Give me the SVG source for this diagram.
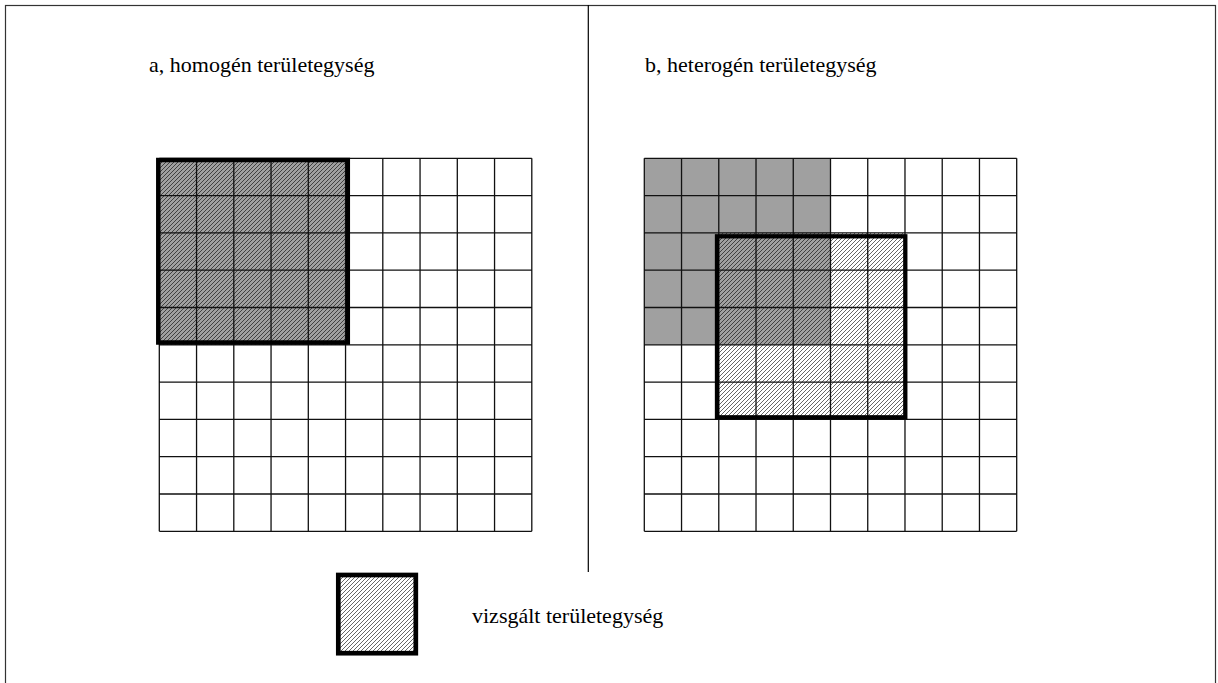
<svg xmlns="http://www.w3.org/2000/svg" width="1218" height="683" viewBox="0 0 1218 683">
<style>
.txt{font-family:"Liberation Serif","Times New Roman",serif;font-size:22px;fill:#000}
.grid{fill:none;stroke:#111;stroke-width:1.3}
.thick{fill:none;stroke:#000}
.gray{fill:#a0a0a0}
</style>
<defs>
<pattern id="hatch" patternUnits="userSpaceOnUse" width="4" height="4">
<path d="M0,4 L4,0 M-1,1 L1,-1 M3,5 L5,3" stroke="#000" stroke-width="0.6" fill="none"/>
</pattern>
</defs>
<rect width="1218" height="683" fill="#fff"/>
<g id="frame">
<rect x="5.5" y="5.5" width="1210" height="700" fill="none" stroke="#333" stroke-width="1.2"/>
<line x1="588.3" y1="5" x2="588.3" y2="572" stroke="#000" stroke-width="1.2"/>
</g>
<g id="panel-a">
<text class="txt" x="149" y="72">a, homogén területegység</text>
<rect class="gray" x="159.3" y="158.3" width="186.25" height="186.5"/>
<rect fill="url(#hatch)" x="159.3" y="158.3" width="186.25" height="186.5"/>
<path class="grid" d="M159.3,158.3V531.3M196.55,158.3V531.3M233.8,158.3V531.3M271.05,158.3V531.3M308.3,158.3V531.3M345.55,158.3V531.3M382.8,158.3V531.3M420.05,158.3V531.3M457.3,158.3V531.3M494.55,158.3V531.3M531.8,158.3V531.3M159.3,158.3H531.8M159.3,195.6H531.8M159.3,232.9H531.8M159.3,270.2H531.8M159.3,307.5H531.8M159.3,344.8H531.8M159.3,382.1H531.8M159.3,419.4H531.8M159.3,456.7H531.8M159.3,494H531.8M159.3,531.3H531.8"/>
<rect class="thick" x="158.3" y="160" width="189.5" height="182.5" stroke-width="4.5"/>
</g>
<g id="panel-b">
<text class="txt" x="645" y="72">b, heterogén területegység</text>
<rect class="gray" x="644.3" y="158.3" width="186.2" height="186.5"/>
<rect fill="url(#hatch)" x="718.78" y="232.9" width="186.2" height="186.5"/>
<path class="grid" d="M644.3,158.3V531.3M681.54,158.3V531.3M718.78,158.3V531.3M756.02,158.3V531.3M793.26,158.3V531.3M830.5,158.3V531.3M867.74,158.3V531.3M904.98,158.3V531.3M942.22,158.3V531.3M979.46,158.3V531.3M1016.7,158.3V531.3M644.3,158.3H1016.7M644.3,195.6H1016.7M644.3,232.9H1016.7M644.3,270.2H1016.7M644.3,307.5H1016.7M644.3,344.8H1016.7M644.3,382.1H1016.7M644.3,419.4H1016.7M644.3,456.7H1016.7M644.3,494H1016.7M644.3,531.3H1016.7"/>
<rect class="thick" x="717" y="236.3" width="188.3" height="181" stroke-width="4.3"/>
</g>
<g id="legend">
<rect fill="url(#hatch)" x="338.3" y="575" width="77.5" height="78.2"/>
<rect class="thick" x="338.3" y="575" width="77.5" height="78.2" stroke-width="4.7"/>
<text class="txt" x="472" y="623">vizsgált területegység</text>
</g>
</svg>
